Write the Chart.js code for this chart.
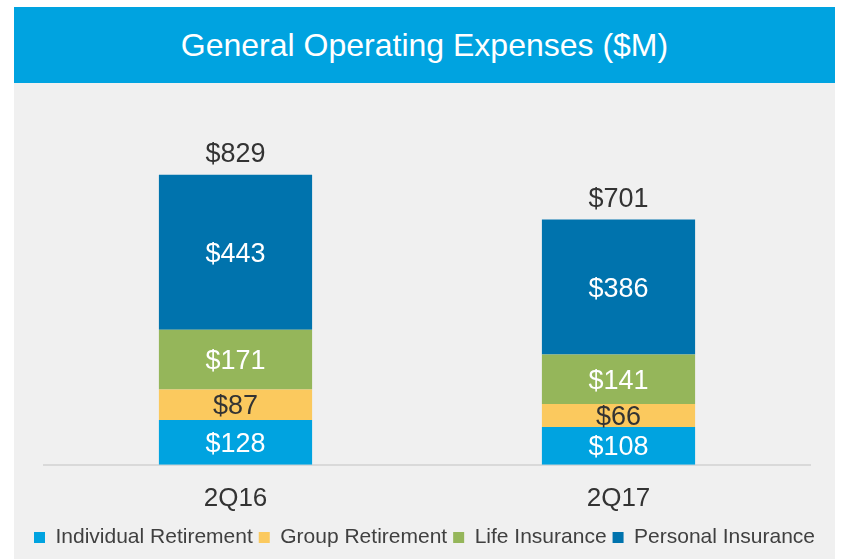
<!DOCTYPE html>
<html>
<head>
<meta charset="utf-8">
<script src="https://cdn.jsdelivr.net/npm/chart.js@4"></script>
<style>
  body { margin: 0; background: #fff; font-family: "Liberation Sans", Arial, sans-serif; }
  #wrap { position: absolute; left: 14px; top: 7px; width: 821px; height: 552px; }
  #head { height: 76px; background: #00a3e0; color: #fff; font-size: 32px;
          text-align: center; line-height: 76px; }
  #panel { height: 476px; background: #f0f0f0; position: relative; }
</style>
</head>
<body>
<div id="wrap">
  <div id="head">General Operating Expenses ($M)</div>
  <div id="panel"><canvas id="chart" width="821" height="476"></canvas></div>
</div>
<script>
// --- data ---
const quarters = ["2Q16", "2Q17"];
const seriesNames = ["Individual Retirement", "Group Retirement", "Life Insurance", "Personal Insurance"];
const individualRet = [128, 108];
const groupRet = [87, 66];
const lifeIns = [171, 141];
const personalIns = [443, 386];
const totals = [829, 701];

const colors = ["#00a3e0", "#fbc95e", "#95b65a", "#0073ad"];
const labelColors = ["#ffffff", "#333333", "#ffffff", "#ffffff"];

const font = "Liberation Sans, Arial, sans-serif";

// draw $ labels inside segments and totals on top
const valueLabels = {
  id: "valueLabels",
  afterDatasetsDraw(chart) {
    const ctx = chart.ctx;
    ctx.save();
    ctx.font = "27px " + font;
    ctx.textAlign = "center";
    ctx.textBaseline = "middle";
    chart.data.datasets.forEach((ds, di) => {
      const meta = chart.getDatasetMeta(di);
      meta.data.forEach((bar, i) => {
        ctx.fillStyle = labelColors[di];
        ctx.fillText("$" + ds.data[i], bar.x, (bar.y + bar.base) / 2 + 2);
      });
    });
    const top = chart.getDatasetMeta(chart.data.datasets.length - 1);
    top.data.forEach((bar, i) => {
      ctx.fillStyle = "#333333";
      ctx.fillText("$" + totals[i], bar.x, chart.scales.y.getPixelForValue(totals[i]) - 20);
    });
    ctx.restore();
  }
};

const seriesData = [individualRet, groupRet, lifeIns, personalIns];

// invisible side axes just to inset the plot area (legend keeps full width)
const spacer = (w, pos) => ({
  position: pos, display: true, min: 0, max: 1000,
  ticks: { display: false }, grid: { display: false }, border: { display: false },
  afterFit: (s) => { s.width = w; }
});

new Chart(document.getElementById("chart"), {
  type: "bar",
  data: {
    labels: quarters,
    datasets: seriesNames.map((name, i) => ({
      label: name,
      data: seriesData[i],
      backgroundColor: colors[i],
      categoryPercentage: 1,
      barPercentage: 0.4
    }))
  },
  options: {
    responsive: false,
    animation: false,
    layout: { padding: { top: 32, left: 0, right: 0, bottom: 1 } },
    scales: {
      x: {
        stacked: true,
        grid: { display: false, drawTicks: false },
        border: { color: "#d9d9d9", width: 2 },
        ticks: { color: "#333333", font: { family: font, size: 26 }, padding: 18 },
        afterFit: (s) => { s.height -= 11; }
      },
      y: Object.assign({ stacked: true }, spacer(30, "left")),
      yRight: spacer(25, "right")
    },
    plugins: {
      legend: {
        position: "bottom",
        labels: {
          boxWidth: 11, boxHeight: 11, padding: 6,
          color: "#404040",
          font: { family: font, size: 21 }
        }
      },
      tooltip: { enabled: false }
    }
  },
  plugins: [valueLabels]
});
</script>
</body>
</html>
